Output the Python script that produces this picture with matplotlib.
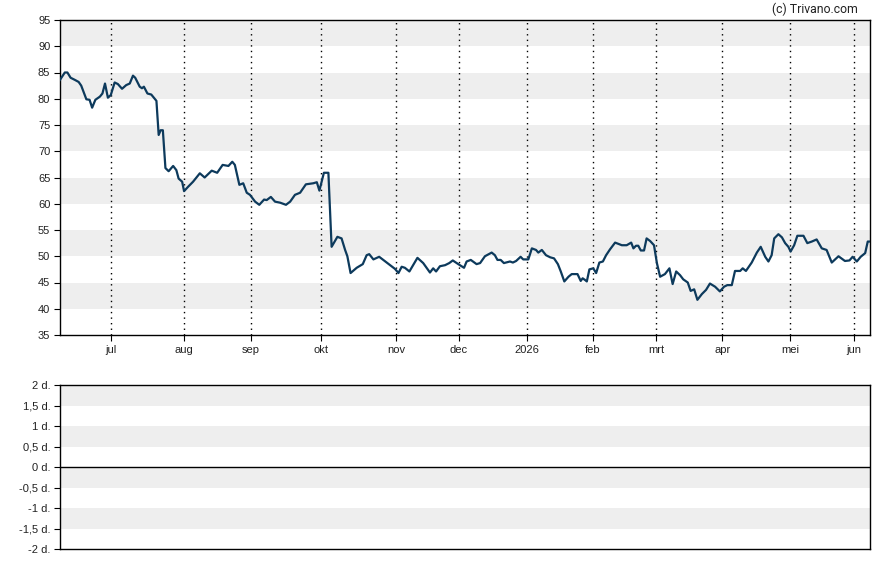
import numpy as np
import matplotlib.pyplot as plt

# trading-day index and closing price
days = [0.0, 1.5, 2.3, 3.3, 4.6, 5.8, 6.6, 7.7, 8.2, 9.2, 10.0, 11.0, 12.4, 13.2,
        14.0, 14.9, 15.8, 17.0, 18.0, 19.3, 20.6, 21.7, 22.7, 23.4, 24.8, 25.5,
        26.1, 27.2, 28.4, 30.0, 30.7, 31.3, 32.0, 32.8, 33.8, 35.2, 36.2, 36.9,
        38.0, 38.6, 39.8, 41.4, 43.5, 45.0, 47.2, 48.9, 50.6, 52.4, 53.6, 54.4,
        55.8, 57.0, 58.1, 59.1, 60.7, 62.0, 63.5, 64.3, 65.6, 66.9, 68.5, 70.3,
        71.6, 73.1, 74.7, 76.5, 78.8, 79.9, 80.7, 82.1, 83.5, 84.5, 86.3, 87.6,
        88.7, 89.4, 90.4, 92.3, 94.2, 95.4, 96.2, 97.5, 99.3, 104.2, 105.3, 106.3,
        107.3, 108.7, 111.2, 113.0, 115.1, 116.1, 117.0, 118.2, 119.8, 121.1,
        122.2, 123.9, 125.7, 126.5, 127.8, 129.6, 130.7, 132.2, 134.3, 135.3,
        136.1, 137.1, 138.1, 140.0, 140.9, 141.9, 143.3, 144.1, 145.7, 146.8,
        148.1, 148.8, 149.9, 151.2, 152.5, 153.7, 154.9, 155.8, 156.9, 158.2,
        159.2, 161.0, 162.0, 162.6, 163.3, 163.9, 164.7, 165.9, 166.8, 167.8,
        168.9, 169.9, 171.1, 172.7, 174.8, 176.3, 177.7, 178.4, 179.2, 179.9,
        180.7, 181.7, 182.5, 183.6, 184.8, 185.7, 186.7, 188.2, 189.6, 190.6,
        191.7, 192.9, 193.9, 195.3, 196.2, 197.3, 198.3, 199.7, 201.0, 202.2,
        203.8, 205.3, 206.6, 207.6, 209.0, 210.0, 211.6, 212.4, 213.4, 215.2,
        216.8, 218.0, 219.4, 220.4, 221.4, 222.2, 223.5, 224.6, 225.6, 226.6,
        227.3, 228.4, 229.4, 231.3, 232.5, 233.9, 235.4, 237.0, 238.5, 240.1,
        242.2, 244.2, 245.6, 246.6, 247.9, 249.1, 250.5, 251.3, 252.0]
price = [83.6, 85.0, 85.0, 84.0, 83.6, 83.2, 82.5, 80.7, 79.9, 79.8, 78.3, 79.8,
         80.4, 81.0, 82.9, 80.2, 80.7, 83.1, 82.8, 81.9, 82.6, 82.9, 84.4, 84.0,
         82.3, 82.0, 82.3, 81.0, 80.8, 79.6, 73.1, 74.0, 74.0, 66.8, 66.2, 67.2,
         66.4, 64.8, 64.2, 62.4, 63.2, 64.2, 65.8, 65.0, 66.3, 65.9, 67.4, 67.2,
         68.0, 67.4, 63.6, 63.9, 62.1, 61.7, 60.4, 59.8, 60.8, 60.7, 61.3, 60.4,
         60.2, 59.8, 60.4, 61.7, 62.1, 63.7, 63.9, 64.1, 62.5, 65.9, 65.9, 51.8,
         53.7, 53.4, 51.2, 50.0, 46.8, 47.8, 48.5, 50.2, 50.4, 49.4, 49.9, 47.6,
         46.8, 48.0, 47.8, 47.1, 49.7, 48.7, 46.9, 47.7, 47.1, 48.1, 48.3, 48.7,
         49.2, 48.5, 47.8, 49.0, 49.3, 48.5, 48.7, 50.0, 50.7, 50.2, 49.3, 49.3,
         48.7, 49.0, 48.8, 49.1, 49.9, 49.4, 49.4, 51.5, 51.2, 50.7, 51.2, 50.2,
         49.8, 49.6, 48.5, 47.1, 45.2, 46.1, 46.6, 46.6, 45.3, 45.8, 45.5, 45.2,
         47.5, 47.7, 46.8, 48.8, 49.0, 50.2, 51.3, 52.6, 52.1, 52.1, 52.6, 51.5,
         52.0, 52.0, 51.1, 51.1, 53.4, 52.9, 52.1, 48.7, 46.1, 46.6, 47.7, 44.7,
         47.1, 46.4, 45.6, 45.0, 43.4, 43.7, 41.7, 42.8, 43.6, 44.8, 44.2, 43.3,
         44.2, 44.5, 44.5, 47.2, 47.2, 47.7, 47.2, 48.8, 50.7, 51.8, 49.9, 49.0,
         50.2, 53.4, 54.2, 53.6, 52.5, 51.8, 50.9, 52.1, 53.9, 53.9, 52.5, 52.8,
         53.2, 51.5, 51.2, 48.8, 50.0, 49.1, 49.2, 49.9, 49.0, 49.9, 50.6, 52.8,
         52.8]

month_days = [15.9, 38.6, 59.4, 81.2, 104.5, 124.1, 145.3, 165.8, 185.4, 206.0,
              227.1, 247.0]
month_labels = ["jul", "aug", "sep", "okt", "nov", "dec", "2026", "feb", "mrt",
                "apr", "mei", "jun"]

price_ticks = list(range(35, 100, 5))
spread_ticks = [2, 1.5, 1, 0.5, 0, -0.5, -1, -1.5, -2]
spread_labels = ["2 d.", "1,5 d.", "1 d.", "0,5 d.", "0 d.", "-0,5 d.", "-1 d.",
                 "-1,5 d.", "-2 d."]

LINE = "#0d3a5c"
BAND = "#eeeeee"

plt.rcParams["font.family"] = ["Liberation Sans", "DejaVu Sans"]
plt.rcParams["font.size"] = 8

fig = plt.figure(figsize=(8.88, 5.65), dpi=100)
ax = fig.add_axes([60 / 888, 1 - 335 / 565, 810 / 888, 315 / 565])
ax2 = fig.add_axes([60 / 888, 1 - 549 / 565, 810 / 888, 164 / 565])

x_end = 252.0

# price panel
for lo in range(40, 95, 10):
    ax.axhspan(lo, lo + 5, color=BAND, lw=0, zorder=0)
for d in month_days:
    ax.axvline(d, color="black", lw=1, ls=(0, (1, 3)), zorder=1)
ax.plot(days, price, color=LINE, lw=1.6, zorder=3)
ax.set_xlim(0, x_end)
ax.set_ylim(35, 95)
ax.set_yticks(price_ticks)
ax.set_xticks(month_days)
ax.set_xticklabels(month_labels)
ax.tick_params(length=4, width=0.8, color="black", labelcolor="#222222", pad=3)

# spread panel
for lo in [1.5, 0.5, -0.5, -1.5]:
    ax2.axhspan(lo, lo + 0.5, color=BAND, lw=0, zorder=0)
ax2.axhline(0, color="black", lw=1, zorder=2)
ax2.set_xlim(0, x_end)
ax2.set_ylim(-2, 2)
ax2.set_yticks(spread_ticks)
ax2.set_yticklabels(spread_labels)
ax2.set_xticks([])
ax2.tick_params(length=4, width=0.8, color="black", labelcolor="#222222", pad=3)

for a in (ax, ax2):
    for s in a.spines.values():
        s.set_linewidth(1)
        s.set_color("black")

fig.text(815 / 888, 1 - 9 / 565, "(c) Trivano.com", ha="center", va="center",
         fontsize=8.8, color="#222222", family=["Roboto", "DejaVu Sans"])

fig.savefig("out.png", dpi=100)
